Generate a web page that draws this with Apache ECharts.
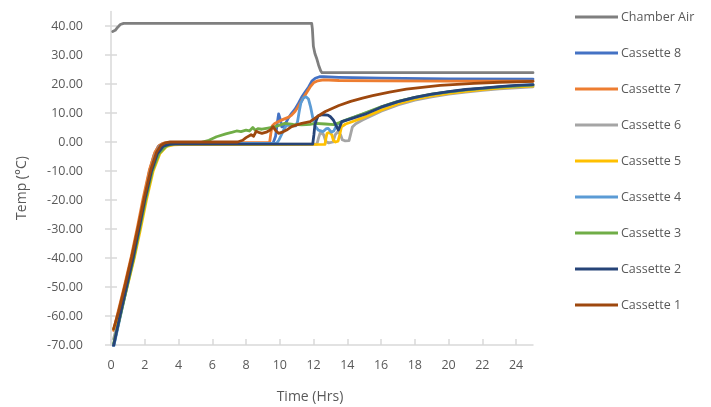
<!DOCTYPE html>
<html>
<head>
<meta charset="utf-8">
<script src="https://cdn.jsdelivr.net/npm/echarts@6/dist/echarts.min.js"></script>
<style>
html,body{margin:0;padding:0;background:#fff;}
#chart{width:711px;height:407px;}
</style>
</head>
<body>
<div id="chart"></div>
<script>
// ---- data: [time (hrs), temperature (°C)] ----
var seriesNames = ['Chamber Air','Cassette 8','Cassette 7','Cassette 6','Cassette 5','Cassette 4','Cassette 3','Cassette 2','Cassette 1'];
var seriesColors = ['#7F7F7F','#4472C4','#ED7D31','#A5A5A5','#FFC000','#5B9BD5','#70AD47','#264478','#9E480E'];

var chamberAir = [[0.1,38.1],[0.25,38.5],[0.4,39.6],[0.55,40.5],[0.75,40.9],[2,40.9],[6,40.9],[10,40.9],[11.89,40.9],[11.93,39],[11.96,36],[11.99,33],[12.08,30.5],[12.18,28.9],[12.3,26.5],[12.42,24.6],[12.5,23.9],[16,23.9],[20,23.9],[25,23.9]];
var cassette8 = [[0.15,-70.3],[0.5,-61],[0.9,-50.5],[1.3,-40],[1.62,-30],[1.93,-20],[2.28,-10],[2.55,-4.5],[2.8,-1.5],[3.05,-0.6],[3.4,-0.5],[5,-0.5],[7,-0.5],[9,-0.5],[9.6,-0.4],[9.75,2],[9.85,6.5],[9.93,9.7],[10.02,8],[10.12,5.2],[10.25,5.3],[10.5,8.2],[10.7,9.9],[10.9,11.3],[11.1,13.3],[11.3,15.5],[11.5,17.2],[11.7,18.9],[11.9,21.0],[12.1,22.0],[12.35,22.5],[12.6,22.5],[13.5,22.3],[16,22.0],[20,21.8],[25,21.7]];
var cassette7 = [[0.15,-65],[0.4,-59],[0.8,-49.5],[1.2,-39.5],[1.56,-29.5],[1.9,-19.5],[2.28,-9.5],[2.6,-3.5],[2.85,-1.2],[3.1,-0.4],[3.4,-0.2],[6,-0.2],[9,-0.2],[9.4,-0.1],[9.47,3],[9.55,5.5],[9.7,6.4],[9.93,7.1],[10.2,7.8],[10.5,8.5],[10.7,9.3],[10.9,10.5],[11.05,11.8],[11.2,13.3],[11.5,16.2],[11.8,19.0],[12.0,20.4],[12.25,21.1],[12.6,21.4],[13.5,21.2],[16,21.1],[20,21.0],[25,21.0]];
var cassette6 = [[0.15,-68],[0.5,-60],[0.9,-50],[1.3,-40],[1.65,-30],[1.98,-20],[2.36,-10],[2.7,-4],[3.05,-1.4],[3.4,-0.8],[3.8,-0.7],[6,-0.7],[9,-0.7],[12.2,-0.7],[12.3,1.5],[12.4,3.3],[12.5,3.6],[12.6,2.5],[12.72,0.2],[12.9,-0.3],[13.15,0],[13.28,2.5],[13.45,3.6],[13.6,2.5],[13.7,0.8],[13.85,0.4],[14.1,0.5],[14.2,2.8],[14.3,5.2],[14.5,6.3],[14.9,7.6],[16,10.6],[17,12.8],[18,14.4],[19,15.6],[20,16.5],[21,17.2],[22,17.8],[23,18.3],[24,18.7],[25,19.0]];
var cassette5 = [[0.15,-64.5],[0.6,-58],[1.0,-49],[1.4,-39.5],[1.75,-30],[2.1,-20],[2.5,-10],[2.9,-4],[3.3,-1.5],[3.7,-1.0],[4.1,-0.9],[6,-0.9],[9,-0.9],[12.68,-0.8],[12.74,1.5],[12.8,3.0],[12.95,3.3],[13.08,2.5],[13.18,0.5],[13.3,0],[13.45,0.3],[13.55,2.5],[13.65,5.2],[13.9,6.2],[14.2,6.8],[14.9,8.3],[16,11.0],[17,13.2],[18,14.8],[19,15.9],[20,16.8],[21,17.5],[22,18.1],[23,18.6],[24,19.0],[25,19.3]];
var cassette4 = [[0.15,-70.8],[0.5,-61.5],[0.9,-51],[1.28,-40.5],[1.62,-30.5],[1.95,-20.5],[2.32,-10.5],[2.62,-4.5],[2.88,-1.5],[3.15,-0.7],[3.5,-0.5],[6,-0.5],[9.8,-0.5],[9.95,0.7],[10.1,2.5],[10.25,4.5],[10.4,5.8],[10.7,5.6],[10.95,5.6],[11.05,7],[11.15,10.5],[11.25,13.5],[11.4,15.2],[11.55,15.6],[11.7,14.8],[11.82,12.2],[11.95,8.5],[12.1,5.5],[12.28,4.1],[12.57,3.6],[12.75,4.6],[12.87,4.7],[13.05,3.4],[13.2,3.8],[13.37,5.9],[13.7,7.0],[14.2,8.2],[15,9.8],[16,12.0],[17,13.9],[18,15.3],[19,16.4],[20,17.3],[21,18.0],[22,18.5],[23,19.0],[24,19.4],[25,19.7]];
var cassette3 = [[0.15,-69.5],[0.55,-60],[0.95,-50],[1.35,-40],[1.7,-30],[2.05,-20],[2.45,-10],[2.85,-4],[3.25,-1.5],[3.6,-0.7],[4.0,-0.4],[5.0,-0.3],[5.3,-0.2],[5.8,0.6],[6.25,1.8],[6.8,2.8],[7.2,3.4],[7.44,3.8],[7.7,3.6],[8.0,4.1],[8.2,3.8],[8.4,5.0],[8.55,4.0],[8.7,4.6],[8.94,4.4],[9.3,4.8],[9.73,5.3],[10.0,5.8],[10.3,6.4],[10.8,6.1],[11.3,5.9],[11.8,6.1],[12.1,6.4],[12.7,6.2],[13.2,6.0],[13.5,6.6],[13.9,7.6],[14.4,8.6],[15.0,9.9],[16,12.1],[17,14.0],[18,15.4],[19,16.5],[20,17.3],[21,18.0],[22,18.5],[23,18.9],[24,19.3],[25,19.6]];
var cassette2 = [[0.15,-70.3],[0.53,-60],[0.92,-50],[1.31,-40],[1.66,-30],[2.0,-20],[2.4,-10],[2.75,-4],[3.1,-1.4],[3.45,-0.8],[3.8,-0.7],[6,-0.7],[9,-0.7],[11.95,-0.7],[12.02,2.5],[12.08,5.9],[12.18,7.8],[12.28,9.0],[12.5,9.4],[12.85,9.3],[13.0,8.7],[13.17,7.6],[13.32,5.8],[13.47,4.1],[13.57,5.5],[13.67,7.0],[14.2,8.0],[15.05,9.6],[16,12.0],[17,13.9],[18,15.4],[19,16.5],[20,17.4],[21,18.1],[22,18.6],[23,19.1],[24,19.5],[25,19.8]];
var cassette1 = [[0.15,-64.5],[0.45,-58.5],[0.85,-49],[1.25,-39],[1.62,-29],[1.96,-19.5],[2.36,-9.5],[2.7,-3.5],[2.95,-1.2],[3.2,-0.3],[3.5,0],[6,0],[7.5,0],[7.8,0.6],[8.0,1.5],[8.3,2.5],[8.45,2.0],[8.6,3.7],[8.8,3.2],[8.94,3.0],[9.2,3.4],[9.43,4.1],[9.6,5.3],[9.75,4.0],[9.93,3.0],[10.2,3.5],[10.4,4.1],[10.7,5.3],[11.0,5.9],[11.3,6.4],[11.8,7.0],[12.2,8.7],[12.7,10.5],[13.5,12.6],[14.2,14.0],[14.9,15.1],[15.5,16.0],[16.5,17.2],[17.5,18.2],[19.5,19.5],[21.5,20.2],[23,20.6],[25,20.9]];

var xTicks = [0,2,4,6,8,10,12,14,16,18,20,22,24];
var yTicks = [-70,-60,-50,-40,-30,-20,-10,0,10,20,30,40];

var allData = [chamberAir,cassette8,cassette7,cassette6,cassette5,cassette4,cassette3,cassette2,cassette1];

var FONT = '"Open Sans", sans-serif';
var TXT = '#595959';
var AXC = '#D9D9D9';

var chart = echarts.init(document.getElementById('chart'), null, {renderer:'canvas'});

var series = allData.map(function(d, i){
  return {
    name: seriesNames[i],
    type: 'line',
    data: d,
    xAxisIndex: 0,
    yAxisIndex: 0,
    symbol: 'none',
    smooth: false,
    lineStyle: {width: 2.8, color: seriesColors[i], join: 'round', cap: 'round'},
    itemStyle: {color: seriesColors[i]},
    z: 2 + i,
    animation: false
  };
});

chart.setOption({
  animation: false,
  grid: {left: 111, right: 178, top: 11.5, bottom: 62, containLabel: false},
  legend: {
    orient: 'vertical',
    left: 575,
    top: 9,
    padding: 0,
    icon: 'rect',
    itemWidth: 43,
    itemHeight: 3,
    itemGap: 20,
    data: seriesNames,
    textStyle: {fontFamily: FONT, fontSize: 12.5, color: TXT, lineHeight: 16, height: 16, padding: [0,0,0,-2]}
  },
  xAxis: [{
    type: 'value', min: 0, max: 25,
    axisLine: {show: true, onZero: false, lineStyle: {color: AXC, width: 1.5}},
    axisTick: {show: true, inside: true, length: 6, customValues: xTicks, lineStyle: {color: AXC, width: 1.5}},
    axisLabel: {customValues: xTicks, fontFamily: FONT, fontSize: 12.5, color: TXT, margin: 14},
    splitLine: {show: false}
  }],
  yAxis: [{
    type: 'value', min: -70, max: 45, position: 'left',
    axisLine: {show: true, onZero: false, lineStyle: {color: AXC, width: 1.5}},
    axisTick: {show: true, inside: false, length: 6, customValues: yTicks, lineStyle: {color: AXC, width: 1.5}},
    axisLabel: {customValues: yTicks, fontFamily: FONT, fontSize: 12.5, color: TXT, margin: 28,
      formatter: function(v){ return v.toFixed(2); }},
    splitLine: {show: false}
  },{
    type: 'value', min: -70, max: 45, position: 'left', offset: 0,
    axisLine: {show: false},
    axisTick: {show: true, inside: true, length: 6, customValues: yTicks, lineStyle: {color: AXC, width: 1.5}},
    axisLabel: {show: false},
    splitLine: {show: false}
  }],
  graphic: [
    {type: 'text', style: {text: 'Time (Hrs)', fontFamily: FONT, fontSize: 14, fill: TXT, textAlign: 'center', textVerticalAlign: 'middle'}, position: [310, 397]},
    {type: 'text', style: {text: 'Temp (°C)', fontFamily: FONT, fontSize: 14, fill: TXT, textAlign: 'center', textVerticalAlign: 'middle'}, position: [22, 188], rotation: Math.PI/2}
  ],
  series: series
});
</script>
</body>
</html>
